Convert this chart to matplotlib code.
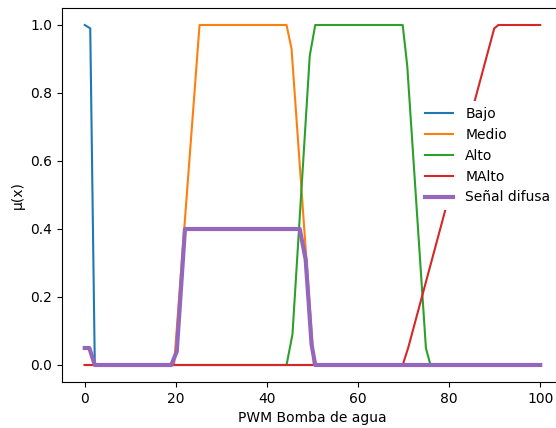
import matplotlib
matplotlib.use("Agg")
import matplotlib.pyplot as plt

# Membership functions of the water-pump PWM output (breakpoints)
bajo_x = [0, 1.2, 2.2, 100]
bajo_y = [1.0, 0.99, 0.0, 0.0]

medio_x = [0, 19.6, 25.2, 44.3, 45.4, 50.3, 100]
medio_y = [0.0, 0.0, 1.0, 1.0, 0.93, 0.0, 0.0]

alto_x = [0, 44.3, 45.6, 49.4, 50.6, 69.8, 70.8, 74.9, 75.9, 100]
alto_y = [0.0, 0.0, 0.09, 0.91, 1.0, 1.0, 0.88, 0.05, 0.0, 0.0]

malto_x = [0, 69.8, 71.0, 89.9, 90.8, 100]
malto_y = [0.0, 0.0, 0.05, 0.99, 1.0, 1.0]

# Aggregated fuzzy output signal
difusa_x = [0, 1.0, 2.2, 19.0, 20.2, 22.0, 47.2, 48.5, 49.8, 50.6, 100]
difusa_y = [0.05, 0.05, 0.0, 0.0, 0.04, 0.4, 0.4, 0.31, 0.06, 0.0, 0.0]

labels = ["Bajo", "Medio", "Alto", "MAlto", "Señal difusa"]
x_ticks = [0, 20, 40, 60, 80, 100]
y_ticks = [0.0, 0.2, 0.4, 0.6, 0.8, 1.0]

fig = plt.figure(figsize=(5.56, 4.28), dpi=100)
ax = fig.add_axes([62 / 556, 46 / 428, 501 / 556, 374 / 428])

ax.plot(bajo_x, bajo_y, lw=1.5, label=labels[0])
ax.plot(medio_x, medio_y, lw=1.5, label=labels[1])
ax.plot(alto_x, alto_y, lw=1.5, label=labels[2])
ax.plot(malto_x, malto_y, lw=1.5, label=labels[3])
ax.plot(difusa_x, difusa_y, lw=3, label=labels[4])

ax.set_xlim(-5, 105)
ax.set_ylim(-0.05, 1.05)
ax.set_xticks(x_ticks)
ax.set_yticks(y_ticks)
ax.set_xlabel("PWM Bomba de agua")
ax.set_ylabel("μ(x)")

leg = ax.legend(loc="upper left", bbox_to_anchor=(0.7134, 0.751),
                borderaxespad=0, framealpha=1, fancybox=True,
                handletextpad=0.9)
leg.get_frame().set_edgecolor("none")

fig.savefig("out.png", dpi=100)
